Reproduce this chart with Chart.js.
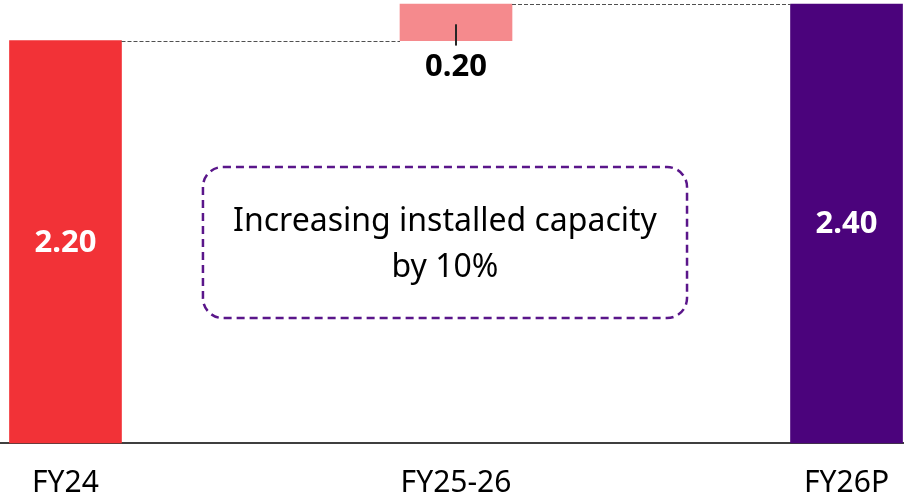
<!DOCTYPE html>
<html><head><meta charset="utf-8">
<script src="https://cdn.jsdelivr.net/npm/chart.js@4.4.1/dist/chart.umd.min.js"></script>
<style>html,body{margin:0;padding:0;background:#fff;overflow:hidden}#wrap{width:904px;height:497px;position:relative}</style>
</head><body><div id="wrap"><canvas id="c"></canvas></div>
<script>
const categories = ['FY24', 'FY25-26', 'FY26P'];
const barStarts = [0, 2.20, 0];
const barEnds = [2.20, 2.40, 2.40];
const valueLabels = ['2.20', '0.20', '2.40'];
const barColors = ['#F23237', '#F58A8D', '#4B037C'];
const noteLines = ['Increasing installed capacity', 'by 10%'];

const FONT = '"Noto Sans"';
const box = { x0: 0.352, x1: 1.5916, yTop: 1.509, yBot: 0.683 };

const overlay = {
  id: 'overlay',
  afterDatasetsDraw(chart) {
    const ctx = chart.ctx;
    const els = chart.getDatasetMeta(0).data;
    const xs = chart.scales.x, ys = chart.scales.y;
    ctx.save();
    // connectors
    ctx.strokeStyle = '#505050'; ctx.lineWidth = 1; ctx.setLineDash([4, 2]);
    for (let i = 0; i < els.length - 1; i++) {
      const a = els[i], b = els[i + 1];
      const yy = Math.round(ys.getPixelForValue(barEnds[i])) + 0.5;
      ctx.beginPath();
      ctx.moveTo(a.x + a.width / 2, yy);
      ctx.lineTo(b.x - b.width / 2, yy);
      ctx.stroke();
    }
    ctx.setLineDash([]);
    // value labels
    ctx.textAlign = 'center'; ctx.textBaseline = 'middle';
    ctx.font = 'bold 31px ' + FONT;
    els.forEach((el, i) => {
      const top = Math.min(el.y, el.base), bot = Math.max(el.y, el.base);
      if (barStarts[i] === 0) {
        ctx.fillStyle = '#fff';
        ctx.fillText(valueLabels[i], el.x, (top + bot) / 2 + 1);
      } else {
        ctx.strokeStyle = '#262626'; ctx.lineWidth = 2;
        ctx.beginPath();
        ctx.moveTo(el.x, (top + bot) / 2 + 2);
        ctx.lineTo(el.x, bot + 5);
        ctx.stroke();
        ctx.fillStyle = '#000';
        ctx.fillText(valueLabels[i], el.x, bot + 27);
      }
    });
    // note box
    const L = xs.getPixelForValue(box.x0), R = xs.getPixelForValue(box.x1);
    const T = ys.getPixelForValue(box.yTop), B = ys.getPixelForValue(box.yBot);
    ctx.strokeStyle = '#5A168A'; ctx.lineWidth = 2.5; ctx.setLineDash([8, 5]);
    ctx.beginPath();
    ctx.roundRect(L, T, R - L, B - T, 20);
    ctx.stroke();
    ctx.setLineDash([]);
    ctx.fillStyle = '#000';
    ctx.font = '32px ' + FONT;
    ctx.textBaseline = 'alphabetic';
    noteLines.forEach((t, k) => ctx.fillText(t, (L + R) / 2, 231 + k * 46));
    ctx.restore();
  }
};

new Chart(document.getElementById('c'), {
  type: 'bar',
  data: {
    datasets: [{
      data: categories.map((c, i) => ({ x: i, y: [barStarts[i], barEnds[i]] })),
      backgroundColor: barColors,
      barThickness: 112,
      borderWidth: 0,
      clip: false
    }]
  },
  options: {
    responsive: true, maintainAspectRatio: false, animation: false,
    layout: { padding: { top: 4, left: 0, right: 0, bottom: 0 } },
    plugins: { legend: { display: false }, tooltip: { enabled: false } },
    scales: {
      x: {
        type: 'linear', min: -0.1677, max: 2.1472, offset: false,
        grid: { display: false, drawTicks: false, offset: false },
        border: { display: true, color: '#3f3f3f', width: 2 },
        afterBuildTicks: (s) => { s.ticks = categories.map((c, i) => ({ value: i })); },
        ticks: { autoSkip: false, maxRotation: 0, padding: 22, color: '#000',
          font: { family: 'Noto Sans', size: 30 }, callback: (v) => categories[v] },
        afterFit: (s) => { s.height = 54; s.paddingLeft = 0; s.paddingRight = 0; }
      },
      y: { display: false, min: 0, max: 2.4 }
    }
  },
  plugins: [overlay]
});
</script>
</body></html>
